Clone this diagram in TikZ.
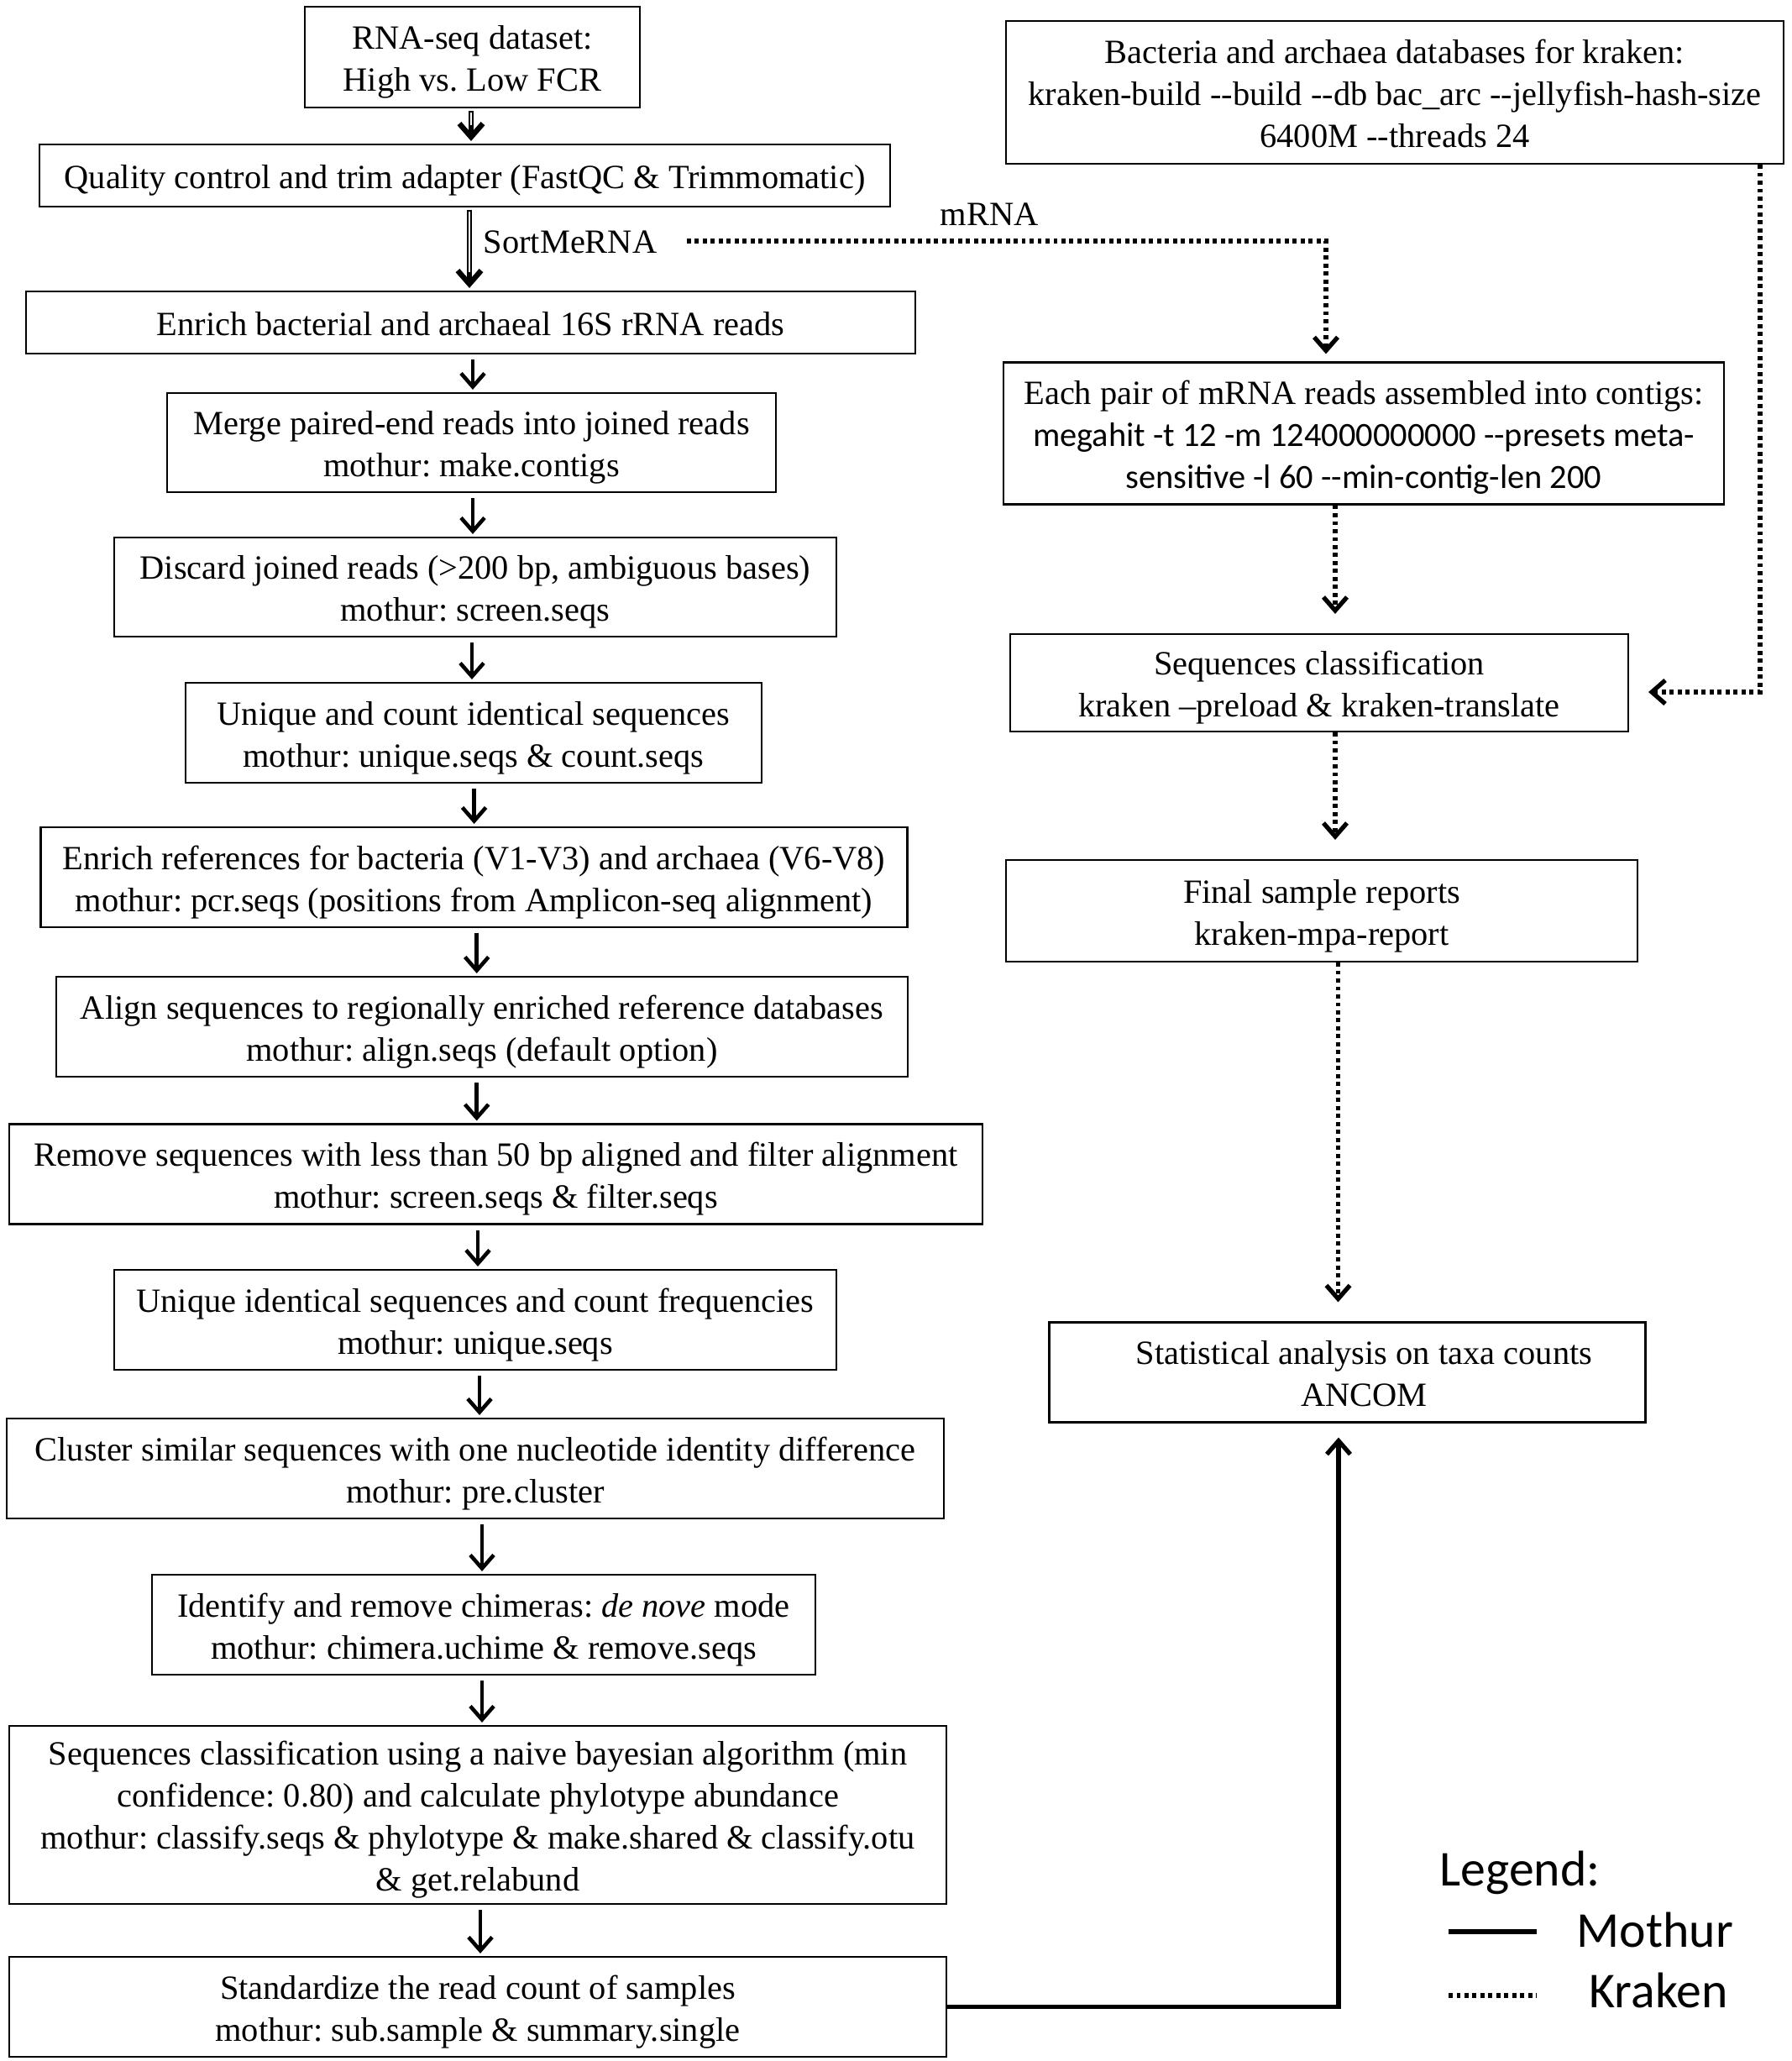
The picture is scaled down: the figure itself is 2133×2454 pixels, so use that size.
\documentclass[tikz,border=0pt]{standalone}
\usepackage{fontspec}
\setmainfont{Liberation Serif}
\newfontfamily\calibri{Carlito}
\usepackage{tikz}
\usetikzlibrary{arrows.meta}
\frenchspacing
%% struts so that every box centres its lines the same way
\newcommand{\boxtop}{\rule{0pt}{11.5pt}}
\newcommand{\boxbot}{\rule[-2.6pt]{0pt}{0pt}}

\tikzset{
  stepbox/.style={draw, line width=0.6pt, align=center, inner sep=0pt,
    font=\fontsize{11.5}{14.2}\selectfont},
  tip/.style={-{Straight Barb[length=1.6mm,width=2.8mm]}},
  mflow/.style={tip, line width=1.3pt, shorten <=0.6mm, shorten >=0.3mm},
  kflow/.style={tip, line width=1.5pt, dash pattern=on 1.4pt off 1.3pt, shorten >=2.3mm},
  legtext/.style={anchor=base west, inner sep=0pt, font=\calibri\fontsize{17}{20}\selectfont},
}

\begin{document}
\begin{tikzpicture}[x=0.1mm,y=-0.1mm]
\useasboundingbox (0,0) rectangle (2133,2454);
%% mothur column
\node[stepbox, minimum width=39.9mm, minimum height=12mm] (rna) at (562.5,68) {\boxtop RNA-seq dataset:\\High vs. Low FCR\boxbot};
\node[stepbox, minimum width=101.3mm, minimum height=7.4mm] (qc) at (553.5,209) {\boxtop Quality control and trim adapter (FastQC \& Trimmomatic)\boxbot};
\node[stepbox, minimum width=105.9mm, minimum height=7.4mm] (enrich) at (560.5,384) {\boxtop Enrich bacterial and archaeal 16S rRNA reads\boxbot};
\node[stepbox, minimum width=72.5mm, minimum height=11.8mm] (merge) at (561.5,527) {\boxtop Merge paired-end reads into joined reads\\mothur: make.contigs\boxbot};
\node[stepbox, minimum width=86mm, minimum height=11.8mm] (discard) at (566,699) {\boxtop Discard joined reads (>200 bp, ambiguous bases)\\mothur: screen.seqs\boxbot};
\node[stepbox, minimum width=68.6mm, minimum height=11.9mm] (uniq) at (564,872.5) {\boxtop Unique and count identical sequences\\mothur: unique.seqs \& count.seqs\boxbot};
\node[stepbox, minimum width=103.2mm, minimum height=11.9mm] (pcr) at (564.5,1044.5) {\boxtop Enrich references for bacteria (V1-V3) and archaea (V6-V8)\\mothur: pcr.seqs (positions from Amplicon-seq alignment)\boxbot};
\node[stepbox, minimum width=101.4mm, minimum height=11.9mm] (align) at (574,1222.5) {\boxtop Align sequences to regionally enriched reference databases\\mothur: align.seqs (default option)\boxbot};
\node[stepbox, minimum width=115.9mm, minimum height=11.9mm] (screen) at (590.5,1398) {\boxtop Remove sequences with less than 50 bp aligned and filter alignment\\mothur: screen.seqs \& filter.seqs\boxbot};
\node[stepbox, minimum width=86mm, minimum height=11.9mm] (uniqfreq) at (566,1571.5) {\boxtop Unique identical sequences and count frequencies\\mothur: unique.seqs\boxbot};
\node[stepbox, minimum width=111.6mm, minimum height=11.9mm] (precl) at (566,1748.5) {\boxtop Cluster similar sequences with one nucleotide identity difference\\mothur: pre.cluster\boxbot};
\node[stepbox, minimum width=79mm, minimum height=11.9mm] (chimera) at (576,1934.5) {\boxtop Identify and remove chimeras: \textit{de nove} mode\\mothur: chimera.uchime \& remove.seqs\boxbot};
\node[stepbox, minimum width=111.6mm, minimum height=21.2mm] (classify) at (569,2161) {\boxtop Sequences classification using a naive bayesian algorithm (min\\confidence: 0.80) and calculate phylotype abundance\\mothur: classify.seqs \& phylotype \& make.shared \& classify.otu\\\& get.relabund\boxbot};
\node[stepbox, minimum width=111.6mm, minimum height=11.9mm] (subsample) at (569,2389.5) {\boxtop Standardize the read count of samples\\mothur: sub.sample \& summary.single\boxbot};
%% kraken column
\node[stepbox, minimum width=92.6mm, minimum height=17mm] (krakendb) at (1661,110) {\boxtop Bacteria and archaea databases for kraken:\\kraken-build -{}-build -{}-db bac\_arc -{}-jellyfish-hash-size\\6400M -{}-threads 24\boxbot};
\node[stepbox, minimum width=85.8mm, minimum height=16.9mm] (megahit) at (1624,516) {\boxtop Each pair of mRNA reads assembled into contigs:\\{\calibri megahit -t 12 -m 124000000000 -{}-presets meta-}\\{\calibri sensitive -l 60 -{}-min-contig-len 200}\boxbot};
\node[stepbox, minimum width=73.6mm, minimum height=11.6mm] (kclass) at (1571,813) {\boxtop Sequences classification\\kraken –preload \& kraken-translate\boxbot};
\node[stepbox, minimum width=75.2mm, minimum height=12.1mm] (report) at (1574,1084.5) {\boxtop Final sample reports\\kraken-mpa-report\boxbot};
\node[stepbox, minimum width=71mm, minimum height=11.9mm] (ancom) at (1604.5,1634) {\boxtop\hspace*{4mm}Statistical analysis on taxa counts\\\hspace*{4mm}ANCOM\boxbot};
%% labels
\node[anchor=west, inner sep=0pt, font=\fontsize{11.5}{14.2}\selectfont] (sortme) at (575,288) {SortMeRNA};
\node[inner sep=0pt, font=\fontsize{11.5}{14.2}\selectfont] (mrna) at (1178,255) {mRNA};
%% double arrows on top
\foreach \a/\b/\ax in {rna/qc/561, qc/enrich/559}{
  \draw[tip, line width=1.8pt, shorten <=0.3mm, shorten >=0.3mm] (\a.south -| \ax,0) -- (\b.north -| \ax,0);
  \draw[white, line width=0.7pt, shorten <=0.5mm, shorten >=2.2mm] (\a.south -| \ax,0) -- (\b.north -| \ax,0);
}
%% mothur arrows
\foreach \a/\b/\ax in {enrich/merge/563, merge/discard/563, discard/uniq/562, uniq/pcr/564.6,
    pcr/align/567.7, align/screen/567.7, screen/uniqfreq/569, uniqfreq/precl/571,
    precl/chimera/574, chimera/classify/574, classify/subsample/572}
  \draw[mflow] (\a.south -| \ax,0) -- (\b.north -| \ax,0);
\draw[mflow, line width=1.5pt, shorten <=0pt, shorten >=1.7mm] (subsample.east) -| (ancom.south -| 1594,0);
%% kraken arrows
\coordinate (mstart) at (818,287);
\draw[kflow, shorten >=0.9mm] (mstart) -| (megahit.north -| 1579,0);
\draw[kflow] (megahit.south -| 1590,0) -- (kclass.north -| 1590,0);
\draw[kflow] (kclass.south -| 1590,0) -- (report.north -| 1590,0);
\draw[kflow] (report.south -| 1593.5,0) -- (ancom.north -| 1593.5,0);
\draw[kflow] (krakendb.south -| 2096,0) |- (kclass.east |- 0,824);
%% legend
\node[legtext] (legend) at (1714,2245) {Legend:};
\node[legtext] (mothur) at (1877,2318) {Mothur};
\node[legtext] (kraken) at (1892,2390) {Kraken};
\coordinate (ms) at (1725,2300);
\coordinate (me) at (1830,2300);
\coordinate (ks) at (1725,2376);
\coordinate (ke) at (1830,2376);
\draw[line width=1.5pt] (ms) -- (me);
\draw[line width=1.5pt, dash pattern=on 1.4pt off 1.3pt] (ks) -- (ke);
\end{tikzpicture}
\end{document}
